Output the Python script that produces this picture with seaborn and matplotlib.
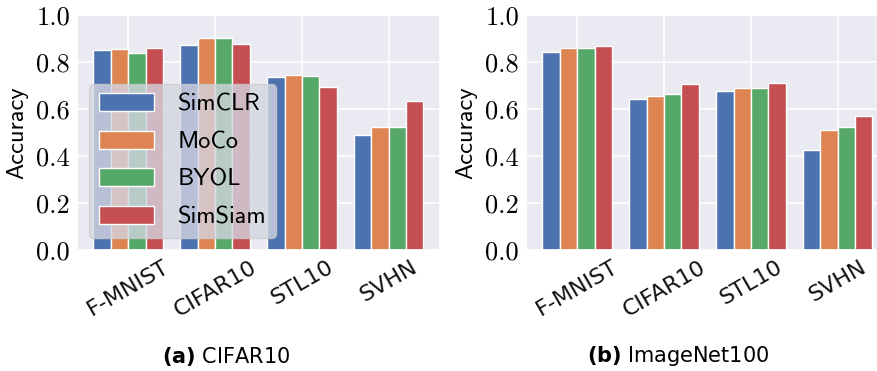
import matplotlib
matplotlib.use("Agg")
import matplotlib.pyplot as plt
import seaborn as sns
import pandas as pd

datasets = ["F-MNIST", "CIFAR10", "STL10", "SVHN"]
methods = ["SimCLR", "MoCo", "BYOL", "SimSiam"]

# accuracy per method, listed in dataset order
cifar10_simclr = [0.851, 0.874, 0.735, 0.491]
cifar10_moco = [0.857, 0.902, 0.746, 0.525]
cifar10_byol = [0.840, 0.901, 0.739, 0.522]
cifar10_simsiam = [0.860, 0.877, 0.694, 0.633]

in100_simclr = [0.841, 0.641, 0.678, 0.427]
in100_moco = [0.858, 0.657, 0.688, 0.509]
in100_byol = [0.858, 0.665, 0.689, 0.525]
in100_simsiam = [0.867, 0.705, 0.711, 0.569]

yticks = [0.0, 0.2, 0.4, 0.6, 0.8, 1.0]
captions = [r"$\bf{(a)}$ CIFAR10", r"$\bf{(b)}$ ImageNet100"]


def to_frame(series):
    rows = []
    for m, vals in zip(methods, series):
        for d, v in zip(datasets, vals):
            rows.append({"Dataset": d, "Method": m, "Accuracy": v})
    return pd.DataFrame(rows)


frames = [
    to_frame([cifar10_simclr, cifar10_moco, cifar10_byol, cifar10_simsiam]),
    to_frame([in100_simclr, in100_moco, in100_byol, in100_simsiam]),
]

sns.set_theme(style="darkgrid")
plt.rcParams.update({"text.color": "black", "axes.labelcolor": "black",
                     "xtick.color": "black", "ytick.color": "black"})
palette = sns.color_palette("deep", 4)

W, H = 878, 371
fig = plt.figure(figsize=(W / 100, H / 100), dpi=100)
ax1 = fig.add_axes([77 / W, 121 / H, 363 / W, 235 / H])
ax2 = fig.add_axes([526 / W, 121 / H, 363 / W, 235 / H])

for ax, df, cap, cx in zip([ax1, ax2], frames, captions, [226, 678]):
    sns.barplot(data=df, x="Dataset", y="Accuracy", hue="Method",
                order=datasets, hue_order=methods, palette=palette,
                saturation=1, width=0.8, edgecolor="white", linewidth=1.0,
                errorbar=None, ax=ax, legend=(ax is ax1))
    ax.set_xlim(-0.59, len(datasets) - 1 + 0.59)
    ax.set_ylim(0, 1.0)
    ax.grid(True, color="white", linewidth=1.1)
    ax.set_axisbelow(True)
    ax.set_yticks(yticks)
    ax.set_yticklabels([f"{t:.1f}" for t in yticks], fontfamily="cmr10",
                       fontsize=19, color="black")
    ax.set_xticks(range(len(datasets)))
    ax.set_xticklabels(datasets, rotation=30, ha="center", fontsize=16,
                       fontfamily="DejaVu Sans", color="#111111")
    ax.tick_params(axis="y", pad=5, length=0)
    ax.tick_params(axis="x", pad=5, length=0)
    ax.set_xlabel("")
    ax.set_ylabel("Accuracy", fontfamily="cmss10", fontsize=17.5, labelpad=6,
                  color="black")
    fig.text(cx / W, 1 - 356 / H, cap, ha="center", va="center",
             fontsize=15, fontfamily="DejaVu Sans", color="black")

handles, labels = ax1.get_legend_handles_labels()
leg = ax1.legend(handles, labels, loc="lower left",
                 prop={"family": "cmss10", "size": 17.5},
                 handlelength=2.25, handleheight=0.75, handletextpad=1.0,
                 labelspacing=0.62, borderaxespad=0.5,
                 framealpha=0.8, facecolor="#D3D5E0", edgecolor="#CCCCCC")
for p in leg.get_patches():
    p.set_edgecolor("white")
for t in leg.get_texts():
    t.set_color("black")

fig.savefig("out.png", dpi=100)
